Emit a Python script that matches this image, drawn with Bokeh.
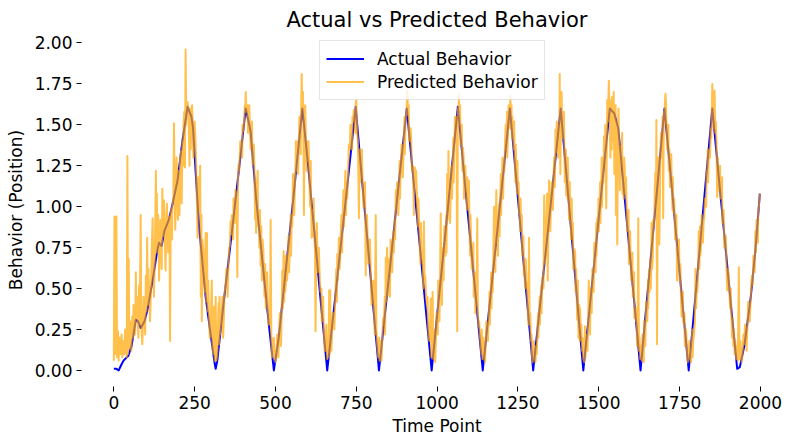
from bokeh.plotting import figure
from bokeh.models import Range1d, FixedTicker, NumeralTickFormatter, Legend, LegendItem
from bokeh.embed import file_html
from bokeh.resources import INLINE

# ---- data ----
actual_points = [
    (0, 0.01), (8, 0.01), (15, 0.0), (22, 0.03), (30, 0.06), (45, 0.09), (55, 0.15), (68, 0.31),
    (75, 0.30), (83, 0.26), (95, 0.30), (104, 0.37), (120, 0.55), (135, 0.74), (140, 0.78),
    (148, 0.76), (156, 0.85), (170, 0.92), (181, 1.01), (197, 1.16), (212, 1.40), (228, 1.61),
    (240, 1.55), (245, 1.48), (255, 1.15), (264, 0.87), (284, 0.45), (298, 0.24), (312, 0.04),
    (315, 0.01), (320, 0.06), (340, 0.42), (366, 0.86), (390, 1.28), (408, 1.60),
    (423, 1.46), (440, 1.05), (460, 0.66), (480, 0.27), (495, 0.0), (510, 0.20), (530, 0.58),
    (555, 1.05), (583, 1.60), (600, 1.27), (620, 0.85), (640, 0.42), (660, 0.0), (680, 0.36),
    (700, 0.73), (720, 1.09), (748, 1.61), (765, 1.22), (785, 0.78), (805, 0.33), (820, 0.0),
    (841, 0.39), (860, 0.74), (880, 1.12), (906, 1.60), (925, 1.20), (945, 0.79), (965, 0.37),
    (983, 0.0), (1000, 0.34), (1024, 0.81), (1048, 1.29), (1064, 1.61), (1085, 1.16), (1105, 0.75),
    (1125, 0.33), (1141, 0.0), (1160, 0.36), (1180, 0.74), (1200, 1.12), (1225, 1.60), (1245, 1.16),
    (1265, 0.71), (1285, 0.27), (1297, 0.0), (1315, 0.34), (1335, 0.71), (1360, 1.18), (1382, 1.60),
    (1400, 1.19), (1420, 0.73), (1440, 0.27), (1452, 0.0), (1470, 0.35), (1490, 0.74), (1510, 1.13),
    (1534, 1.60), (1548, 1.57), (1560, 1.48), (1575, 1.16), (1595, 0.73), (1615, 0.30), (1629, 0.0),
    (1645, 0.35), (1665, 0.78), (1685, 1.21), (1703, 1.60), (1720, 1.24), (1740, 0.81), (1760, 0.38),
    (1778, 0.0), (1795, 0.37), (1815, 0.81), (1835, 1.25), (1851, 1.60), (1870, 1.20), (1890, 0.79),
    (1910, 0.37), (1928, 0.01), (1936, 0.02), (1950, 0.15), (1970, 0.45), (1985, 0.75), (1998, 1.08),
]

# predicted series: main readings (spikes and path)
predicted_points = [
    (0, 0.06), (2, 0.94), (4, 0.10), (6, 0.14), (8, 0.94), (10, 0.08), (13, 0.24), (15, 0.06),
    (20, 0.10), (24, 0.22), (26, 0.08), (32, 0.10), (38, 0.12), (42, 1.31), (44, 0.10), (46, 0.68),
    (48, 0.14), (52, 0.18), (57, 0.33), (59, 0.20), (64, 0.28), (68, 0.60), (70, 0.32), (74, 0.30),
    (78, 0.52), (80, 0.28), (83, 0.95), (85, 0.27), (88, 0.16), (90, 0.28), (95, 0.31), (99, 0.58),
    (101, 0.36), (103, 0.81), (105, 0.40), (110, 0.45), (115, 0.50), (120, 0.93), (122, 0.58),
    (126, 0.65), (130, 1.22), (132, 0.72), (133, 1.08), (135, 0.75), (140, 0.55), (142, 0.78),
    (146, 0.76), (150, 1.11), (152, 0.82), (155, 1.04), (157, 0.86), (160, 0.61), (162, 0.88),
    (166, 0.90), (170, 0.92), (172, 0.94), (174, 0.18), (176, 0.96), (178, 0.99), (181, 1.02),
    (184, 1.05), (186, 1.51), (188, 1.08), (190, 0.86), (192, 1.10), (196, 1.14), (200, 1.22),
    (203, 0.95), (205, 1.30), (208, 1.34), (210, 1.02), (212, 1.40), (215, 1.45), (218, 1.58),
    (220, 1.24), (222, 1.96), (224, 1.50), (226, 1.62), (228, 1.64), (231, 1.59), (234, 1.25),
    (236, 1.60), (240, 1.55), (244, 1.50), (248, 1.40), (253, 1.38), (256, 1.12), (259, 0.81),
    (261, 1.18), (265, 1.08), (269, 0.45), (271, 0.95), (272, 0.30), (274, 0.80), (279, 0.58),
    (284, 0.84), (286, 0.42), (288, 0.84), (290, 0.36), (295, 0.29), (300, 0.21), (303, 0.55),
    (305, 0.14), (308, 0.10), (310, 0.39), (312, 0.06), (315, 0.45), (317, 0.06), (320, 0.10),
    (324, 0.41), (326, 0.16), (327, 0.45), (329, 0.22),
    (333, 0.31), (338, 0.20), (342, 0.46), (346, 0.53), (350, 0.60), (355, 0.69), (357, 0.75),
    (359, 0.76), (361, 0.91), (363, 0.83), (367, 0.89), (372, 0.98), (378, 1.08), (382, 0.57),
    (384, 1.19), (386, 1.26), (388, 1.22), (393, 1.34), (395, 1.38), (400, 1.46), (403, 1.52),
    (406, 1.58), (408, 1.70), (410, 1.58), (413, 1.62), (417, 1.53), (421, 1.48), (425, 1.40),
    (429, 1.26), (431, 1.35), (435, 1.20), (437, 0.92), (439, 1.16), (440, 0.84), (442, 1.08),
    (448, 0.98), (454, 0.64), (456, 0.88), (462, 0.75), (466, 0.45), (468, 0.65), (472, 0.55),
    (476, 0.45), (480, 0.35), (483, 0.28), (485, 0.92), (487, 0.22), (491, 0.19), (493, 0.10),
    (497, 0.07), (500, 0.05), (503, 0.10),
    (507, 0.14), (511, 0.20), (515, 0.26), (519, 0.33), (521, 0.61), (523, 0.38), (525, 0.73),
    (527, 0.42), (532, 0.52), (538, 0.65), (545, 0.80), (550, 0.92), (552, 0.88), (556, 1.02),
    (560, 1.12), (563, 1.40), (565, 1.22), (566, 1.40), (568, 1.28), (572, 1.38), (576, 1.48),
    (579, 1.55), (581, 1.81), (583, 1.60), (586, 1.55), (588, 0.95), (590, 1.50), (594, 1.42),
    (597, 1.40), (600, 1.28), (605, 1.15), (610, 1.02), (612, 0.81), (614, 0.98), (620, 0.85),
    (624, 0.24), (626, 0.80), (632, 0.64), (637, 0.56), (639, 0.48), (645, 0.35), (650, 0.22),
    (655, 0.12), (660, 0.07), (664, 0.08), (666, 0.49), (668, 0.10), (669, 0.49), (671, 0.15),
    (675, 0.25), (680, 0.35), (685, 0.45), (691, 0.71), (693, 0.55), (696, 0.81), (698, 0.62),
    (702, 0.85), (708, 0.95), (714, 1.05), (720, 1.15), (725, 1.25), (727, 1.38), (730, 1.35),
    (735, 1.45), (740, 1.52), (742, 1.59), (745, 1.58), (748, 1.63), (751, 1.55), (755, 1.40),
    (758, 0.93), (760, 1.35), (765, 1.25), (770, 1.10), (775, 1.00), (779, 0.58), (781, 0.90),
    (785, 0.80), (790, 0.68), (795, 0.56), (800, 0.45), (805, 0.35), (810, 0.95), (812, 0.25),
    (815, 0.14), (818, 0.08), (822, 0.06), (826, 0.10), (830, 0.18), (835, 0.28),
    (841, 0.69), (843, 0.42), (845, 0.75), (847, 0.46), (852, 0.57), (858, 0.70), (864, 0.85),
    (868, 0.92), (872, 1.10), (874, 0.98), (878, 1.05), (882, 1.12), (887, 1.20), (892, 1.30),
    (897, 1.42), (902, 1.52), (905, 1.58), (908, 1.71), (910, 1.56), (915, 1.48), (920, 1.38),
    (925, 1.25), (928, 0.95), (931, 1.24), (933, 1.15), (938, 1.02), (945, 0.85), (952, 0.68),
    (959, 0.91), (961, 0.55), (966, 0.44), (968, 0.40), (972, 0.28), (976, 0.18), (980, 0.44),
    (982, 0.08), (986, 0.48), (988, 0.07), (992, 0.10), (996, 0.18),
    (1000, 0.30), (1005, 0.40), (1011, 0.96), (1013, 0.52), (1018, 0.62), (1024, 0.76),
    (1031, 1.20), (1033, 0.92), (1035, 1.34), (1037, 0.98), (1042, 1.08), (1048, 1.22),
    (1053, 1.36), (1057, 1.54), (1060, 1.55), (1062, 0.24), (1064, 1.60), (1067, 1.69),
    (1069, 1.55), (1074, 1.45), (1080, 1.36), (1085, 1.20), (1090, 1.10), (1095, 1.00),
    (1098, 1.16), (1100, 0.90), (1105, 0.78), (1110, 0.65), (1115, 0.55), (1120, 0.45),
    (1124, 0.93), (1126, 0.36), (1128, 0.27), (1130, 0.30), (1135, 0.15), (1140, 0.07),
    (1145, 0.08), (1150, 0.15),
    (1155, 0.25), (1160, 0.35), (1165, 0.45), (1170, 0.55), (1176, 1.00), (1178, 0.68),
    (1183, 1.10), (1185, 0.78), (1190, 0.95), (1195, 1.05), (1200, 1.15), (1206, 1.28),
    (1212, 1.50), (1214, 1.35), (1219, 1.45), (1223, 1.55), (1226, 1.68), (1228, 1.58),
    (1231, 1.42), (1235, 1.42), (1240, 1.30), (1245, 1.20), (1250, 1.10), (1253, 0.96),
    (1255, 1.00), (1260, 0.88), (1265, 0.75), (1270, 0.65), (1274, 0.68), (1276, 0.55),
    (1280, 0.40), (1284, 0.81), (1286, 0.28), (1290, 0.18), (1293, 0.10), (1297, 0.07),
    (1302, 0.08), (1306, 0.15),
    (1310, 0.25), (1315, 0.35), (1320, 0.45), (1325, 0.56), (1327, 0.58), (1331, 1.07),
    (1333, 0.65), (1336, 0.72), (1340, 1.08), (1342, 0.55), (1344, 0.86), (1346, 1.16),
    (1348, 0.92), (1352, 1.02), (1356, 1.12), (1360, 1.20), (1366, 1.47), (1368, 1.33),
    (1372, 1.43), (1376, 1.50), (1379, 1.81), (1381, 1.20), (1383, 1.60), (1386, 1.55),
    (1390, 1.50), (1393, 1.40), (1396, 1.32), (1399, 1.07), (1401, 1.22), (1406, 1.10),
    (1412, 0.98), (1418, 0.85), (1423, 0.63), (1425, 0.74), (1430, 0.62), (1433, 0.31),
    (1435, 0.55), (1437, 0.20), (1439, 0.40), (1444, 0.25), (1448, 0.12), (1452, 0.07),
    (1457, 0.27), (1459, 0.08), (1463, 0.15),
    (1467, 0.30), (1469, 0.55), (1471, 0.35), (1476, 0.45), (1482, 0.58), (1488, 0.72),
    (1495, 0.93), (1497, 0.85), (1502, 0.98), (1507, 1.10), (1512, 1.22), (1516, 1.43),
    (1518, 1.30), (1523, 0.99), (1525, 1.45), (1528, 1.52), (1531, 1.77), (1533, 1.58),
    (1536, 1.30), (1538, 1.65), (1540, 1.35), (1541, 1.67), (1543, 1.40), (1545, 1.60),
    (1548, 1.20), (1550, 1.57), (1553, 0.95), (1555, 1.52), (1557, 0.77), (1559, 1.48),
    (1562, 1.42), (1565, 1.10), (1567, 1.37), (1570, 1.32), (1575, 1.20), (1578, 1.30),
    (1582, 1.08), (1586, 1.00), (1590, 0.88), (1595, 0.75), (1598, 0.70), (1602, 0.62),
    (1607, 0.50), (1612, 0.38), (1615, 0.30), (1620, 0.20), (1622, 0.93), (1624, 0.12),
    (1628, 0.07), (1633, 0.06), (1637, 0.10),
    (1642, 0.22), (1648, 0.35), (1655, 0.61), (1657, 0.48), (1663, 0.90), (1665, 0.62),
    (1670, 0.88), (1675, 1.21), (1677, 1.00), (1678, 1.53), (1680, 0.16), (1682, 1.05),
    (1685, 1.18), (1687, 0.77), (1690, 1.30), (1694, 1.38), (1697, 1.55), (1699, 0.93),
    (1701, 1.58), (1704, 1.62), (1706, 1.69), (1709, 1.52), (1713, 1.40), (1716, 1.22),
    (1718, 1.35), (1722, 1.20), (1726, 1.10), (1731, 0.96), (1734, 0.98), (1738, 0.88),
    (1742, 0.55), (1744, 0.75), (1750, 0.55), (1756, 0.33), (1758, 0.38), (1763, 0.28),
    (1768, 0.18), (1773, 0.10), (1777, 0.08), (1782, 0.07), (1787, 0.12),
    (1792, 0.18), (1794, 0.21), (1797, 0.30), (1799, 0.62), (1801, 0.38), (1805, 0.48),
    (1809, 0.85), (1811, 0.62), (1816, 0.75), (1820, 0.85), (1824, 0.91), (1826, 0.93),
    (1830, 1.05), (1835, 1.18), (1840, 1.30), (1842, 1.35), (1846, 1.48), (1849, 1.55),
    (1851, 1.75), (1853, 1.60), (1856, 1.56), (1858, 1.71), (1860, 1.45), (1864, 1.38),
    (1866, 1.06), (1868, 1.30), (1872, 1.20), (1878, 1.05), (1884, 0.92), (1890, 0.80),
    (1897, 0.49), (1899, 0.62), (1904, 0.48), (1910, 0.35), (1912, 0.20), (1916, 0.15),
    (1920, 0.10), (1925, 0.07), (1930, 0.06), (1933, 0.63), (1935, 0.07), (1940, 0.10),
    (1945, 0.12),
    (1950, 0.16), (1955, 0.24), (1960, 0.30), (1965, 0.38), (1970, 0.45), (1974, 0.58),
    (1976, 0.52), (1980, 0.62), (1984, 0.85), (1986, 0.72), (1990, 0.85), (1995, 1.00),
    (1998, 1.08),
]

# predicted series: smaller jitter strokes read between the main readings
predicted_extra = [
    (17, 0.20), (28, 0.18), (35, 0.25), (40, 0.08), (50, 0.30), (54, 0.12), (61, 0.40), (66, 0.22),
    (72, 0.45), (76, 0.20), (92, 0.45), (97, 0.22), (107, 0.62), (112, 0.30), (117, 0.72),
    (124, 0.45), (128, 0.88), (137, 0.95), (144, 0.92), (148, 0.62), (164, 1.02), (168, 0.72),
    (180, 0.80), (194, 1.30), (198, 0.92), (214, 1.25), (216, 1.52), (238, 1.35), (242, 1.62),
    (246, 1.30), (250, 1.52), (263, 0.98), (267, 1.25), (277, 0.72), (281, 0.48), (292, 0.55),
    (297, 0.20), (301, 0.40),
    (331, 0.28), (336, 0.45), (340, 0.30), (344, 0.50), (348, 0.62), (352, 0.45), (365, 0.95),
    (369, 0.80), (370, 1.05), (374, 0.90), (376, 1.10), (380, 0.98), (391, 1.40), (397, 1.30),
    (398, 1.50), (405, 1.62), (415, 1.45), (419, 1.62), (423, 1.35), (427, 1.52), (433, 1.38),
    (445, 1.22), (446, 0.88), (450, 0.75), (452, 0.98), (458, 0.55), (460, 0.80), (464, 0.62),
    (470, 0.38), (474, 0.60), (478, 0.28), (489, 0.08), (495, 0.20), (499, 0.12),
    (505, 0.22), (509, 0.08), (513, 0.35), (517, 0.15), (529, 0.70), (530, 0.48), (534, 0.70),
    (536, 0.55), (540, 0.82), (542, 0.60), (547, 0.95), (548, 0.70), (554, 1.20), (558, 0.95),
    (562, 1.25), (570, 1.20), (574, 1.55), (578, 1.32), (585, 1.70), (592, 1.62), (596, 1.22),
    (602, 1.40), (607, 1.00), (609, 1.28), (616, 0.82), (618, 1.05), (622, 0.72), (628, 0.90),
    (630, 0.60), (634, 0.75), (642, 0.50), (643, 0.30), (647, 0.45), (652, 0.12), (657, 0.28),
    (662, 0.20),
    (673, 0.12), (677, 0.35), (682, 0.25), (688, 0.62), (690, 0.42), (700, 0.68), (704, 0.95),
    (706, 0.72), (710, 1.10), (712, 0.88), (716, 1.22), (718, 0.95), (722, 1.05), (732, 1.50),
    (737, 1.35), (738, 1.55), (747, 1.45), (750, 1.66), (753, 1.45), (762, 1.15), (767, 1.35),
    (772, 1.00), (777, 1.15), (783, 0.95), (787, 0.65), (792, 0.80), (797, 0.40), (802, 0.55),
    (807, 0.22), (820, 0.20), (824, 0.18), (828, 0.06), (833, 0.32),
    (838, 0.45), (839, 0.22), (850, 0.68), (854, 0.45), (856, 0.80), (861, 0.60), (866, 0.72),
    (870, 0.80), (876, 1.15), (880, 0.95), (884, 1.28), (885, 1.05), (890, 1.38), (894, 1.18),
    (899, 1.55), (900, 1.32), (912, 1.62), (913, 1.40), (918, 1.48), (922, 1.22), (935, 1.22),
    (940, 0.88), (942, 1.05), (948, 0.65), (950, 0.90), (955, 0.72), (957, 0.50), (963, 0.58),
    (970, 0.45), (974, 0.20), (978, 0.28), (984, 0.22), (990, 0.25), (994, 0.05), (998, 0.35),
    (1002, 0.22), (1003, 0.55), (1007, 0.30), (1009, 0.58), (1015, 0.40), (1016, 0.75),
    (1020, 0.55), (1022, 0.88), (1026, 0.70), (1028, 0.95), (1029, 0.72), (1039, 1.15),
    (1040, 0.90), (1044, 1.25), (1046, 1.05), (1050, 1.42), (1051, 1.15), (1055, 1.55),
    (1059, 1.40), (1066, 1.50), (1071, 1.62), (1072, 1.38), (1076, 1.50), (1078, 1.22),
    (1082, 1.30), (1083, 1.05), (1087, 1.25), (1092, 0.98), (1093, 1.18), (1102, 0.70),
    (1103, 0.95), (1107, 0.62), (1112, 0.78), (1113, 0.45), (1117, 0.60), (1118, 0.35),
    (1122, 0.40), (1132, 0.22), (1137, 0.10), (1138, 0.25), (1143, 0.20), (1148, 0.05),
    (1152, 0.30), (1157, 0.18), (1162, 0.48), (1163, 0.28), (1167, 0.60), (1168, 0.38),
    (1172, 0.48), (1174, 0.75), (1180, 0.60), (1181, 0.88), (1187, 0.92), (1188, 0.70),
    (1192, 1.02), (1193, 0.82), (1197, 1.20), (1198, 0.95), (1202, 1.30), (1204, 1.05),
    (1208, 1.22), (1210, 1.40), (1216, 1.58), (1217, 1.30), (1221, 1.62), (1225, 1.48),
    (1230, 1.62), (1233, 1.55), (1237, 1.35), (1238, 1.52), (1242, 1.15), (1243, 1.38),
    (1247, 1.08), (1248, 1.28), (1252, 1.15), (1257, 0.85), (1258, 1.05), (1262, 0.95),
    (1263, 0.70), (1267, 0.82), (1268, 0.58), (1272, 0.50), (1278, 0.52), (1282, 0.28),
    (1288, 0.35), (1292, 0.22), (1295, 0.05), (1299, 0.18), (1304, 0.05),
    (1308, 0.10), (1312, 0.35), (1313, 0.20), (1317, 0.45), (1318, 0.28), (1322, 0.52),
    (1323, 0.35), (1329, 0.50), (1338, 0.92), (1350, 0.85), (1354, 1.15), (1358, 0.98),
    (1362, 1.30), (1364, 1.12), (1370, 1.52), (1374, 1.30), (1378, 1.45), (1385, 1.70),
    (1388, 1.42), (1392, 1.58), (1395, 1.15), (1398, 1.35), (1403, 1.05), (1404, 1.30),
    (1408, 0.92), (1410, 1.15), (1414, 0.80), (1416, 1.05), (1420, 0.90), (1421, 0.62),
    (1427, 0.72), (1428, 0.48), (1441, 0.18), (1442, 0.38), (1446, 0.28), (1450, 0.20),
    (1455, 0.05), (1461, 0.22),
    (1465, 0.12), (1473, 0.22), (1474, 0.50), (1478, 0.35), (1480, 0.62), (1484, 0.48),
    (1486, 0.78), (1490, 0.60), (1492, 0.90), (1493, 0.70), (1499, 1.05), (1500, 0.85),
    (1504, 1.15), (1505, 0.90), (1509, 1.30), (1510, 1.00), (1514, 1.15), (1520, 1.50),
    (1521, 1.28), (1526, 1.65), (1546, 1.70), (1552, 1.62), (1561, 1.60), (1564, 1.25),
    (1572, 1.45), (1573, 1.08), (1577, 1.05), (1580, 1.25), (1584, 1.18), (1588, 0.85),
    (1592, 0.98), (1593, 0.65), (1597, 0.85), (1600, 0.55), (1604, 0.72), (1605, 0.45),
    (1609, 0.60), (1610, 0.32), (1617, 0.38), (1618, 0.15), (1626, 0.20), (1631, 0.15),
    (1635, 0.22),
    (1639, 0.05), (1640, 0.30), (1644, 0.15), (1646, 0.42), (1650, 0.30), (1652, 0.55),
    (1653, 0.38), (1659, 0.68), (1661, 0.50), (1667, 0.70), (1668, 0.92), (1672, 0.95),
    (1673, 1.10), (1684, 1.30), (1689, 1.05), (1692, 1.45), (1696, 1.30), (1703, 1.50),
    (1708, 1.62), (1711, 1.35), (1715, 1.50), (1720, 1.12), (1724, 1.32), (1728, 0.98),
    (1729, 1.18), (1733, 1.05), (1736, 0.80), (1740, 0.95), (1746, 0.62), (1748, 0.80),
    (1752, 0.65), (1754, 0.45), (1760, 0.48), (1761, 0.30), (1765, 0.35), (1766, 0.15),
    (1770, 0.25), (1775, 0.05), (1780, 0.18), (1785, 0.05),
    (1789, 0.25), (1790, 0.08), (1803, 0.52), (1807, 0.60), (1813, 0.88), (1814, 0.70),
    (1818, 0.95), (1822, 0.78), (1828, 1.05), (1832, 1.00), (1833, 1.22), (1837, 1.35),
    (1838, 1.15), (1844, 1.30), (1848, 1.42), (1855, 1.48), (1862, 1.52), (1870, 1.10),
    (1875, 1.25), (1876, 1.05), (1881, 1.18), (1882, 0.90), (1886, 0.98), (1888, 0.75),
    (1893, 0.82), (1895, 0.62), (1902, 0.58), (1906, 0.38), (1908, 0.50), (1914, 0.32),
    (1918, 0.25), (1922, 0.18), (1927, 0.15), (1938, 0.18), (1942, 0.05), (1947, 0.22),
    (1952, 0.28), (1957, 0.12), (1962, 0.42), (1967, 0.30), (1972, 0.55), (1978, 0.70),
    (1982, 0.60), (1988, 0.92), (1992, 0.78), (1993, 0.98), (1997, 1.05),
]

x_ticks = [0, 250, 500, 750, 1000, 1250, 1500, 1750, 2000]
y_ticks = [0.0, 0.25, 0.5, 0.75, 1.0, 1.25, 1.5, 1.75, 2.0]

actual_time = [t for t, v in actual_points]
actual_value = [v for t, v in actual_points]
pred_all = sorted(predicted_points + predicted_extra)
pred_time = [t for t, v in pred_all]
pred_value = [v for t, v in pred_all]

FONT = "DejaVu Sans"

p = figure(width=800, height=444, output_backend="svg", toolbar_location=None,
           x_range=Range1d(-100, 2099), y_range=Range1d(-0.098, 2.058),
           min_border_left=81, min_border_right=8, min_border_top=33, min_border_bottom=58,
           background_fill_color="white", border_fill_color="white")

p.title.text = "Actual vs Predicted Behavior"
p.title.align = "center"
p.title.text_font = FONT
p.title.text_font_size = "21px"
p.title.text_font_style = "normal"
p.title.text_color = "black"
p.title.standoff = 4

p.outline_line_color = None
p.xgrid.visible = False
p.ygrid.visible = False

r_actual = p.line(actual_time, actual_value, line_color="blue", line_width=2, line_join="round")
r_pred = p.line(pred_time, pred_value, line_color="orange", line_alpha=0.7, line_width=2,
                line_join="round")

for ax in (p.xaxis, p.yaxis):
    ax.axis_line_color = None
    ax.major_tick_line_color = "black"
    ax.major_tick_line_width = 1
    ax.major_tick_out = 5
    ax.major_tick_in = 0
    ax.minor_tick_line_color = None
    ax.major_label_text_font = FONT
    ax.major_label_text_font_size = "17px"
    ax.major_label_text_color = "black"
    ax.axis_label_text_font = FONT
    ax.axis_label_text_font_size = "17px"
    ax.axis_label_text_font_style = "normal"
    ax.axis_label_text_color = "black"

p.xaxis.ticker = FixedTicker(ticks=x_ticks)
p.xaxis.formatter = NumeralTickFormatter(format="0")
p.yaxis.ticker = FixedTicker(ticks=y_ticks)
p.yaxis.formatter = NumeralTickFormatter(format="0.00")
p.xaxis.axis_label = "Time Point"
p.yaxis.axis_label = "Behavior (Position)"
p.xaxis.major_label_standoff = 4
p.yaxis.major_label_standoff = 4
p.xaxis.axis_label_standoff = 4
p.yaxis.axis_label_standoff = 6

legend = Legend(items=[LegendItem(label="Actual Behavior", renderers=[r_actual]),
                       LegendItem(label="Predicted Behavior", renderers=[r_pred])],
                location=(238, 286))
legend.label_text_font = FONT
legend.label_text_font_size = "17px"
legend.label_text_color = "black"
legend.glyph_width = 38
legend.glyph_height = 23
legend.label_height = 23
legend.label_standoff = 13
legend.padding = 6
legend.spacing = 0
legend.margin = 0
legend.border_line_color = "#cccccc"
legend.border_line_width = 1
legend.background_fill_color = "white"
legend.background_fill_alpha = 0.8
p.add_layout(legend)

open("out.html", "w").write(file_html(p, INLINE))
